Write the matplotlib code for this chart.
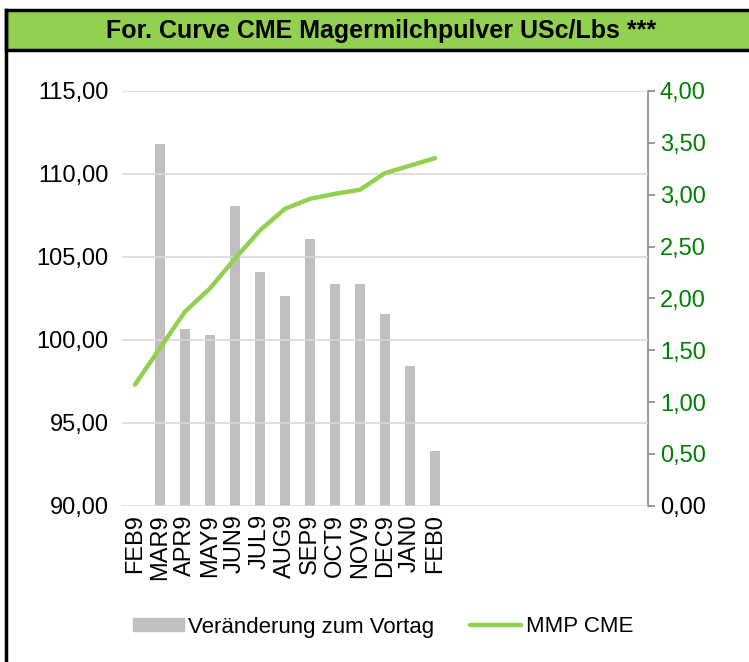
import matplotlib
matplotlib.use("Agg")

import matplotlib.pyplot as plt
from matplotlib.patches import Rectangle
from matplotlib.lines import Line2D
from matplotlib.ticker import FuncFormatter

months = ["FEB9", "MAR9", "APR9", "MAY9", "JUN9", "JUL9", "AUG9",
          "SEP9", "OCT9", "NOV9", "DEC9", "JAN0", "FEB0"]
n_slots = 21  # chart keeps empty slots to the right

mmp_cme = [97.3, 99.5, 101.7, 103.1, 104.9, 106.6, 107.9,
           108.5, 108.8, 109.05, 110.05, 110.5, 110.95]
change_vs_prev = [0.0, 3.49, 1.70, 1.65, 2.89, 2.25, 2.02,
                  2.57, 2.14, 2.14, 1.85, 1.35, 0.53]

plt.rcParams["font.family"] = ["Liberation Sans", "DejaVu Sans"]

W, H = 749, 662
fig = plt.figure(figsize=(W / 100, H / 100), dpi=100)

# title bar + left border
fig.patches.append(Rectangle((6 / W, 1 - 50 / H), 1.0, 40 / H, transform=fig.transFigure,
                             facecolor="#92D050", edgecolor="black", linewidth=2.5,
                             zorder=0))
fig.lines.append(Line2D([6 / W, 6 / W], [0, 1 - 10 / H], transform=fig.transFigure,
                        color="black", linewidth=2.5))
fig.text(381 / W, 1 - 31 / H, "For. Curve CME Magermilchpulver USc/Lbs ***",
         ha="center", va="center", fontsize=18, fontweight="bold")

ax = fig.add_axes([122.5 / W, 1 - 505.7 / H, 525 / W, 414.7 / H])
ax2 = ax.twinx()

x = list(range(len(months)))
ax2.bar(x, change_vs_prev, width=0.42, color="#BFBFBF", zorder=2)
ax.plot(x, mmp_cme, color="#92D050", linewidth=3.2, solid_capstyle="round",
        solid_joinstyle="round", zorder=3)

# line above bars
ax.set_zorder(ax2.get_zorder() + 1)
ax.patch.set_visible(False)

ax.set_xlim(-0.5, n_slots - 0.5)
ax.set_ylim(90, 115)
ax.set_yticks([90, 95, 100, 105, 110, 115])
ax2.set_ylim(0, 4)
ax2.set_yticks([0, 0.5, 1, 1.5, 2, 2.5, 3, 3.5, 4])

comma = FuncFormatter(lambda v, p: f"{v:.2f}".replace(".", ","))
ax.yaxis.set_major_formatter(comma)
ax2.yaxis.set_major_formatter(comma)

ax.set_xticks(x)
ax.set_xticklabels(months, rotation=90, fontsize=17)
ax.tick_params(axis="x", length=0, pad=6)
ax.tick_params(axis="y", length=0, labelsize=17, pad=10)
ax2.tick_params(axis="y", length=5, width=1.2, color="#888888", labelsize=17,
                pad=4)
for lbl in ax2.get_yticklabels():
    lbl.set_color("#008000")
ax2.get_yticklabels()[0].set_color("black")

ax.grid(axis="y", color="#D9D9D9", linewidth=1.2)
ax.set_axisbelow(True)
for s in ["top", "left", "right", "bottom"]:
    ax.spines[s].set_visible(False)
for s in ["top", "left", "bottom"]:
    ax2.spines[s].set_visible(False)
ax2.spines["right"].set_color("#888888")
ax2.spines["right"].set_linewidth(1.2)

handles = [Rectangle((0, 0), 1, 1, color="#BFBFBF"),
           Line2D([0], [0], color="#92D050", linewidth=3.2, solid_capstyle="round")]
fig.legend(handles, ["Veränderung zum Vortag", "MMP CME"], loc="center",
           bbox_to_anchor=(383 / W, 1 - 627 / H), ncol=2, frameon=False,
           fontsize=16, handlelength=2.3, handleheight=0.5, handletextpad=0.2,
           columnspacing=1.6)

fig.savefig("out.png", dpi=100)
plt.close(fig)
